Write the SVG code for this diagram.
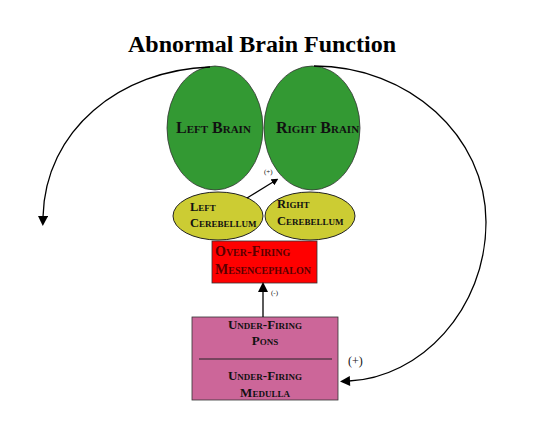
<svg xmlns="http://www.w3.org/2000/svg" width="547" height="433" viewBox="0 0 547 433">
<style>
.t{font-family:"Liberation Serif","Times New Roman",serif;font-variant:small-caps;font-weight:bold;fill:#111}
.brain{fill:#339933;stroke:#333;stroke-width:0.8}
.cer{fill:#cccc33;stroke:#222;stroke-width:1}
.lbl{font-family:"Liberation Serif","Times New Roman",serif;fill:#111}
.conn{fill:none;stroke:#000;stroke-width:1.3}
</style>
<defs>
<marker id="ah" viewBox="0 0 10 10" refX="1" refY="5" markerWidth="7" markerHeight="7" markerUnits="userSpaceOnUse" orient="auto">
<path d="M0,0 L10,5 L0,10 z" fill="#000"/>
</marker>
<marker id="ahb" viewBox="0 0 10 10" refX="1" refY="5" markerWidth="11" markerHeight="10" markerUnits="userSpaceOnUse" orient="auto">
<path d="M0,0 L10,5 L0,10 z" fill="#000"/>
</marker>
</defs>
<rect width="547" height="433" fill="#fff"/>
<text x="262" y="52" text-anchor="middle" style="font-family:'Liberation Serif','Times New Roman',serif;font-weight:bold;font-size:24px" fill="#000">Abnormal Brain Function</text>

<g id="left-brain">
<ellipse class="brain" cx="215" cy="128" rx="48" ry="62"/>
<text class="t" x="176" y="133" style="font-size:16px">Left Brain</text>
</g>
<g id="right-brain">
<ellipse class="brain" cx="312" cy="128" rx="48" ry="62"/>
<text class="t" x="276" y="133" style="font-size:16px">Right Brain</text>
</g>
<g id="left-cerebellum">
<ellipse class="cer" cx="218" cy="216" rx="45" ry="24"/>
<text class="t" x="190" y="211" style="font-size:12.5px">Left</text>
<text class="t" x="190" y="227" style="font-size:12.5px">Cerebellum</text>
</g>
<g id="right-cerebellum">
<ellipse class="cer" cx="310" cy="216" rx="45" ry="24"/>
<text class="t" x="277" y="208" style="font-size:12.5px">Right</text>
<text class="t" x="277" y="225" style="font-size:12.5px">Cerebellum</text>
</g>
<g id="mesencephalon">
<rect x="212" y="241" width="105" height="42" fill="#ff0000" stroke="#333" stroke-width="0.8"/>
<text class="t" x="215" y="256" style="font-size:14px;fill:#5a0000">Over-Firing</text>
<text class="t" x="215" y="274" style="font-size:14px;fill:#5a0000">Mesencephalon</text>
</g>
<g id="pons-medulla">
<rect x="192" y="317" width="146" height="83" fill="#cc6699" stroke="#333" stroke-width="0.8"/>
<line x1="199" y1="359" x2="332" y2="359" stroke="#222" stroke-width="1"/>
<text class="t" x="265" y="329" text-anchor="middle" style="font-size:13px">Under-Firing</text>
<text class="t" x="265" y="345" text-anchor="middle" style="font-size:13px">Pons</text>
<text class="t" x="265" y="380" text-anchor="middle" style="font-size:13px">Under-Firing</text>
<text class="t" x="265" y="397" text-anchor="middle" style="font-size:13px">Medulla</text>
</g>

<g id="connectors">
<path class="conn" d="M210,67 C120,70 45,130 43,217" marker-end="url(#ahb)"/>
<path class="conn" d="M314,66 C409,66 486,136 486,222 C486,310 420,378 349,381" marker-end="url(#ahb)"/>
<path class="conn" d="M247,198 L273,182" marker-end="url(#ah)"/>
<path class="conn" d="M263,317 L263,291" marker-end="url(#ahb)"/>
<text class="lbl" x="264" y="174" style="font-size:7px">(+)</text>
<text class="lbl" x="271" y="295" style="font-size:7px">(-)</text>
<text class="lbl" x="348" y="365" style="font-size:12px">(+)</text>
</g>
</svg>
